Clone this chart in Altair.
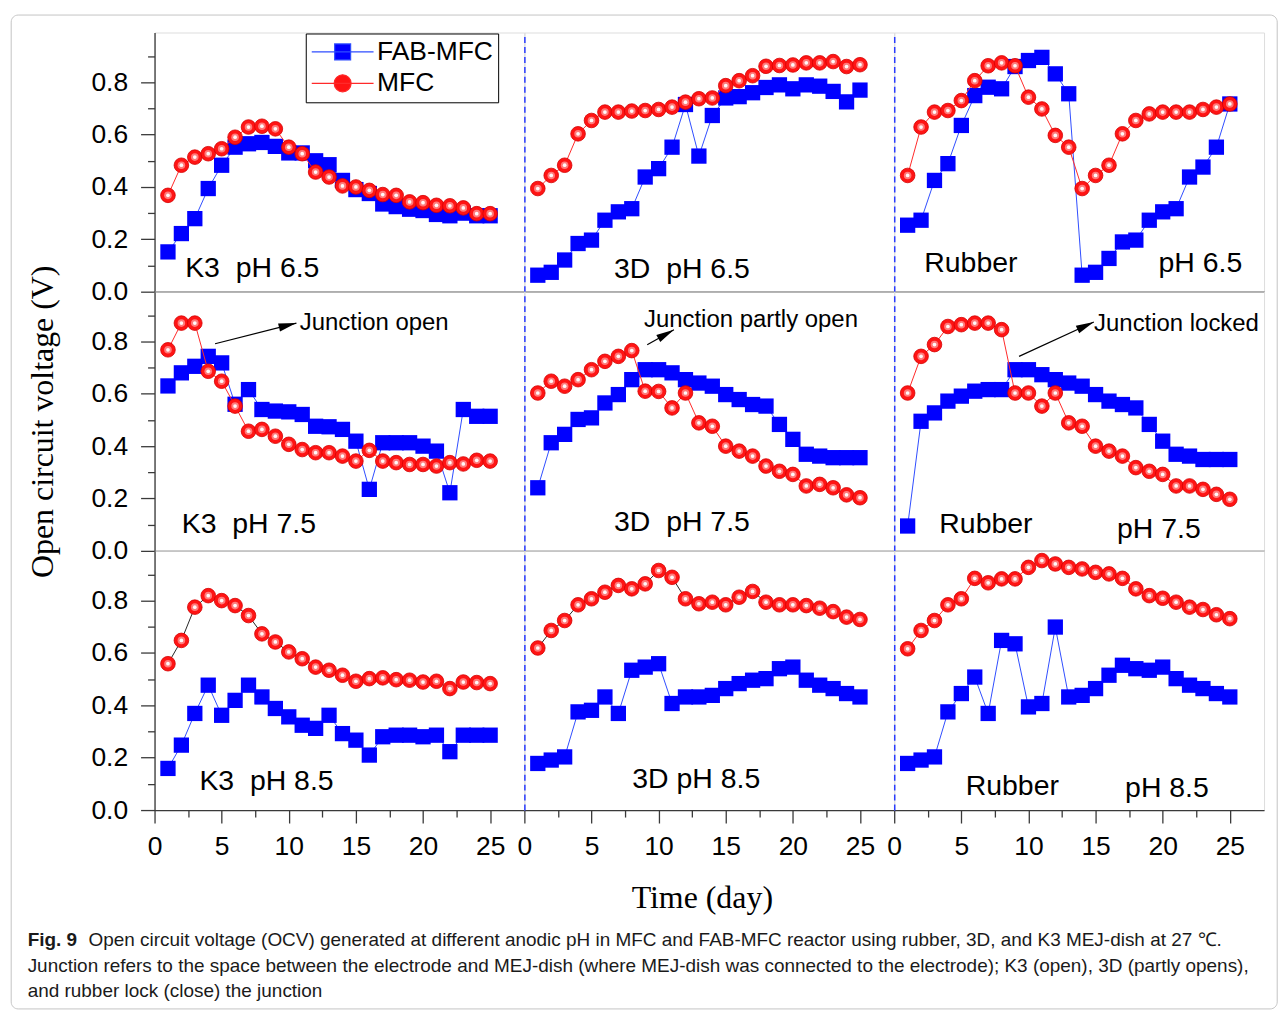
import altair as alt
import pandas as pd

DAYS = list(range(1, 26))

# ---- pH 6.5 ----
K3_65_FAB = [0.152, 0.222, 0.279, 0.394, 0.483, 0.552, 0.565, 0.570, 0.555, 0.530, 0.530, 0.500, 0.485,
             0.425, 0.390, 0.375, 0.335, 0.325, 0.315, 0.310, 0.295, 0.290, 0.300, 0.290, 0.290]
K3_65_MFC = [0.368, 0.483, 0.514, 0.527, 0.546, 0.590, 0.629, 0.632, 0.622, 0.552, 0.527, 0.457, 0.438,
             0.404, 0.400, 0.387, 0.371, 0.368, 0.343, 0.340, 0.330, 0.328, 0.320, 0.298, 0.298]
D3_65_FAB = [0.063, 0.074, 0.121, 0.184, 0.197, 0.273, 0.305, 0.317, 0.438, 0.470, 0.552, 0.715, 0.518,
             0.673, 0.740, 0.745, 0.760, 0.780, 0.790, 0.775, 0.790, 0.785, 0.765, 0.725, 0.770]
D3_65_MFC = [0.394, 0.444, 0.483, 0.603, 0.654, 0.686, 0.686, 0.690, 0.692, 0.696, 0.705, 0.724, 0.737,
             0.740, 0.787, 0.806, 0.825, 0.861, 0.864, 0.866, 0.874, 0.874, 0.879, 0.860, 0.867]
RB_65_FAB = [0.254, 0.273, 0.425, 0.489, 0.635, 0.749, 0.781, 0.775, 0.860, 0.883, 0.895, 0.832, 0.756,
             0.063, 0.074, 0.127, 0.190, 0.197, 0.273, 0.305, 0.317, 0.438, 0.476, 0.552, 0.717]
RB_65_MFC = [0.444, 0.629, 0.686, 0.692, 0.730, 0.806, 0.863, 0.874, 0.863, 0.743, 0.698, 0.597, 0.552,
             0.394, 0.444, 0.483, 0.603, 0.654, 0.679, 0.686, 0.686, 0.686, 0.696, 0.705, 0.717]

# ---- pH 7.5 ----
K3_75_FAB = [0.630, 0.680, 0.705, 0.743, 0.718, 0.560, 0.616, 0.540, 0.534, 0.531, 0.521, 0.476, 0.474,
             0.464, 0.419, 0.235, 0.413, 0.413, 0.413, 0.400, 0.381, 0.222, 0.540, 0.514, 0.514]
K3_75_MFC = [0.768, 0.870, 0.870, 0.686, 0.648, 0.553, 0.457, 0.464, 0.438, 0.407, 0.387, 0.375, 0.375,
             0.362, 0.343, 0.384, 0.343, 0.337, 0.330, 0.330, 0.324, 0.337, 0.332, 0.346, 0.343]
D3_75_FAB = [0.241, 0.413, 0.445, 0.502, 0.508, 0.565, 0.597, 0.654, 0.692, 0.692, 0.680, 0.654, 0.641,
             0.629, 0.597, 0.578, 0.559, 0.553, 0.483, 0.426, 0.369, 0.362, 0.356, 0.356, 0.356]
D3_75_MFC = [0.603, 0.648, 0.629, 0.654, 0.692, 0.724, 0.743, 0.765, 0.610, 0.609, 0.546, 0.603, 0.489,
             0.476, 0.400, 0.381, 0.362, 0.324, 0.304, 0.292, 0.248, 0.254, 0.241, 0.214, 0.203]
RB_75_FAB = [0.095, 0.495, 0.527, 0.572, 0.591, 0.610, 0.616, 0.616, 0.692, 0.692, 0.673, 0.654, 0.641,
             0.629, 0.597, 0.572, 0.559, 0.546, 0.483, 0.419, 0.369, 0.362, 0.349, 0.349, 0.349]
RB_75_MFC = [0.603, 0.743, 0.788, 0.857, 0.864, 0.870, 0.870, 0.845, 0.603, 0.603, 0.553, 0.603, 0.489,
             0.476, 0.400, 0.381, 0.362, 0.318, 0.304, 0.292, 0.248, 0.248, 0.235, 0.216, 0.197]

# ---- pH 8.5 ----
K3_85_FAB = [0.159, 0.248, 0.369, 0.477, 0.362, 0.419, 0.477, 0.432, 0.388, 0.356, 0.324, 0.312, 0.362,
             0.292, 0.267, 0.210, 0.280, 0.286, 0.286, 0.280, 0.286, 0.223, 0.286, 0.286, 0.286]
K3_85_MFC = [0.559, 0.648, 0.775, 0.819, 0.800, 0.781, 0.743, 0.673, 0.642, 0.604, 0.578, 0.546, 0.534,
             0.515, 0.492, 0.502, 0.505, 0.498, 0.496, 0.489, 0.492, 0.464, 0.489, 0.487, 0.483]
D3_85_FAB = [0.178, 0.191, 0.203, 0.375, 0.381, 0.432, 0.369, 0.534, 0.546, 0.559, 0.407, 0.432, 0.432,
             0.438, 0.464, 0.483, 0.496, 0.502, 0.540, 0.546, 0.496, 0.477, 0.464, 0.445, 0.432]
D3_85_MFC = [0.619, 0.686, 0.724, 0.784, 0.807, 0.832, 0.858, 0.845, 0.864, 0.915, 0.889, 0.807, 0.788,
             0.794, 0.784, 0.813, 0.835, 0.794, 0.784, 0.784, 0.781, 0.771, 0.758, 0.737, 0.728]
RB_85_FAB = [0.178, 0.191, 0.203, 0.375, 0.445, 0.508, 0.369, 0.648, 0.635, 0.394, 0.407, 0.699, 0.432,
             0.438, 0.464, 0.515, 0.553, 0.540, 0.534, 0.546, 0.502, 0.477, 0.464, 0.445, 0.432]
RB_85_MFC = [0.616, 0.686, 0.724, 0.784, 0.807, 0.885, 0.868, 0.883, 0.883, 0.927, 0.953, 0.940, 0.927,
             0.921, 0.908, 0.902, 0.885, 0.845, 0.819, 0.809, 0.794, 0.775, 0.766, 0.746, 0.731]

SERIES = ["FAB-MFC", "MFC"]
DISHES = ["K3", "3D", "Rubber"]
PHS = ["6.5", "7.5", "8.5"]

PANEL_DATA = {
    ("6.5", "K3"): (K3_65_FAB, K3_65_MFC), ("6.5", "3D"): (D3_65_FAB, D3_65_MFC), ("6.5", "Rubber"): (RB_65_FAB, RB_65_MFC),
    ("7.5", "K3"): (K3_75_FAB, K3_75_MFC), ("7.5", "3D"): (D3_75_FAB, D3_75_MFC), ("7.5", "Rubber"): (RB_75_FAB, RB_75_MFC),
    ("8.5", "K3"): (K3_85_FAB, K3_85_MFC), ("8.5", "3D"): (D3_85_FAB, D3_85_MFC), ("8.5", "Rubber"): (RB_85_FAB, RB_85_MFC),
}

NB = "\u00a0"
# panel labels (text, ph, dish, day of left edge, baseline voltage)
LABEL_TEXT = ["K3" + NB + NB + "pH 6.5", "3D" + NB + NB + "pH 6.5", "Rubber", "pH 6.5",
              "K3" + NB + NB + "pH 7.5", "3D" + NB + NB + "pH 7.5", "Rubber", "pH 7.5",
              "K3" + NB + NB + "pH 8.5", "3D pH 8.5", "Rubber", "pH 8.5"]
LABEL_PH = ["6.5"] * 4 + ["7.5"] * 4 + ["8.5"] * 4
LABEL_DISH = ["K3", "3D", "Rubber", "Rubber"] * 3
LABEL_DAY = [2.28, 6.68, 2.24, 19.69, 2.03, 6.68, 3.36, 16.6, 3.34, 8.04, 5.33, 17.2]
LABEL_V = [0.057, 0.051, 0.076, 0.076, 0.070, 0.076, 0.070, 0.051, 0.076, 0.083, 0.057, 0.051]

# junction annotations (pH 7.5 row)
NOTE_TEXT = ["Junction open", "Junction partly open", "Junction locked"]
NOTE_DISH = ["K3", "3D", "Rubber"]
NOTE_DAY = [10.82, 8.91, 14.89]
NOTE_V = [0.845, 0.857, 0.838]
ARROW_DAY = [4.51, 9.15, 9.30]
ARROW_V = [0.791, 0.787, 0.743]
ARROW_DAY2 = [10.57, 11.14, 14.87]
ARROW_V2 = [0.870, 0.845, 0.874]
ARROW_ANGLE = [75.8, 60.7, 65.4]

CAPTION_BOLD = "Fig. 9"
CAPTION_1 = ("Open circuit voltage (OCV) generated at different anodic pH in MFC and FAB-MFC reactor "
             "using rubber, 3D, and K3 MEJ-dish at 27 \u2103.")
CAPTION_2 = ("Junction refers to the space between the electrode and MEJ-dish (where MEJ-dish was connected "
             "to the electrode); K3 (open), 3D (partly opens),")
CAPTION_3 = "and rubber lock (close) the junction"

# ---------------- tables ----------------
recs = []
for (ph, dish), (fab, mfc) in PANEL_DATA.items():
    for d, a, b in zip(DAYS, fab, mfc):
        recs.append(dict(ph=ph, dish=dish, series="FAB-MFC", day=d, v=a))
        recs.append(dict(ph=ph, dish=dish, series="MFC", day=d, v=b))
df = pd.DataFrame(recs)

labels_df = pd.DataFrame(dict(text=LABEL_TEXT, ph=LABEL_PH, dish=LABEL_DISH, day=LABEL_DAY, v=LABEL_V))
notes_df = pd.DataFrame(dict(text=NOTE_TEXT, dish=NOTE_DISH, day=NOTE_DAY, v=NOTE_V))
arrows_df = pd.DataFrame(dict(dish=NOTE_DISH, day=ARROW_DAY, v=ARROW_V, day2=ARROW_DAY2, v2=ARROW_V2))
heads_df = pd.DataFrame(dict(dish=NOTE_DISH, day=ARROW_DAY2, v=ARROW_V2, ang=ARROW_ANGLE))
cap_df = pd.DataFrame(dict(text=[CAPTION_BOLD, CAPTION_1, CAPTION_2, CAPTION_3]))
frame_df = pd.DataFrame(dict(frame=["figure"]))

SANS = "Liberation Sans"
SERIF = "Liberation Serif"
AXIS_GRAY = "#3a3a3a"
CAP_COLOR = "#1a1a1a"

XS = alt.Scale(domain=[0, 27.55], nice=False, zero=False)
YS = alt.Scale(domain=[0, 0.99], nice=False, zero=False)

HEAD_PATH = "M0,0L0.45,2L-0.45,2Z"
# legend symbols: line through marker (size 625 -> unit = 12.5 px)
SQ_PATH = "M-2.48,0H2.48M-0.64,-0.64H0.64V0.64H-0.64Z"
CI_PATH = "M-2.48,0H2.48M-0.68,0A0.68,0.68,0,1,1,0.68,0A0.68,0.68,0,1,1,-0.68,0Z"

PW, PH_ = 371, 260


def x_axis(bottom, title=None):
    if bottom:
        kw = dict(
            values=[i * 2.5 for i in range(11)],
            tickSize={"condition": {"test": "datum.value % 5 == 0", "value": 13}, "value": 7},
            labelExpr="datum.value % 5 == 0 ? format(datum.value, 'd') : ''",
            labelFont=SANS, labelFontSize=26.5, labelColor="black", labelPadding=11,
            labelFlush=False, labelOverlap=False,
            tickColor=AXIS_GRAY, tickWidth=1.3, domainColor=AXIS_GRAY, domainWidth=1.3,
            grid=False,
        )
        if title:
            kw.update(title=title, titleFont=SERIF, titleFontSize=32, titleFontWeight="normal",
                      titleColor="black", titlePadding=22, titleX=178)
        else:
            kw.update(title=None)
        return alt.Axis(**kw)
    return alt.Axis(title=None, ticks=False, labels=False, grid=False,
                    domainColor=AXIS_GRAY, domainWidth=1.3)


def y_axis(first, title=None):
    if first:
        kw = dict(
            values=[round(i * 0.1, 1) for i in range(10)],
            tickSize={"condition": {"test": "round(datum.value*10) % 2 == 0", "value": 14}, "value": 7},
            labelExpr="round(datum.value*10) % 2 == 0 ? format(datum.value, '.1f') : ''",
            labelFont=SANS, labelFontSize=26.5, labelColor="black", labelPadding=13,
            labelFlush=False, labelOverlap=False,
            tickColor=AXIS_GRAY, tickWidth=1.3, domainColor=AXIS_GRAY, domainWidth=1.3,
            grid=False,
        )
        if title:
            kw.update(title=title, titleFont=SERIF, titleFontSize=32, titleFontWeight="normal",
                      titleColor="black", titlePadding=32, titleLimit=800)
        else:
            kw.update(title=None)
        return alt.Axis(**kw)
    return alt.Axis(title=None, ticks=False, labels=False, grid=False,
                    domainColor="#2a3cff", domainWidth=1.5, domainDash=[6, 4])


def make_panel(ri, ci):
    ph, dish = PHS[ri], DISHES[ci]
    sub = df[(df.ph == ph) & (df.dish == dish)]
    X = alt.X("day:Q", scale=XS,
              axis=x_axis(ri == 2, "Time (day)" if (ri == 2 and ci == 1) else None))
    Y = alt.Y("v:Q", scale=YS,
              axis=y_axis(ci == 0, "Open circuit voltage (V)" if (ri == 1 and ci == 0) else None))
    base = alt.Chart(sub).encode(x=X, y=Y)
    fab = base.transform_filter(alt.datum.series == "FAB-MFC")
    mfc = base.transform_filter(alt.datum.series == "MFC")
    red_line = "#262626" if (ri == 2 and ci < 2) else "#ff2a2a"
    layers = []
    if ri == 0 and ci == 0:
        # light rounded frame around the whole figure (decoration)
        layers.append(alt.Chart(frame_df).mark_rect(
            fillOpacity=0, stroke="#c4c4c4", strokeWidth=1, cornerRadius=7
        ).encode(x=alt.value(-143.8), x2=alt.value(1126.2), y=alt.value(-17.5), y2=alt.value(979.5)))
    layers += [
        fab.mark_line(color="#2f4dff", strokeWidth=1),
        fab.mark_square(size=235, color="#0000ff", opacity=1),
        mfc.mark_line(color=red_line, strokeWidth=1),
        mfc.mark_circle(size=215, color="#ff1414", stroke="#d40000", strokeWidth=0.8, opacity=1),
        mfc.mark_circle(size=58, color="#ff9c9c", opacity=0.75),
        mfc.mark_circle(size=14, color="white", opacity=0.95),
    ]
    lab = labels_df[(labels_df.ph == ph) & (labels_df.dish == dish)]
    layers.append(
        alt.Chart(lab).mark_text(align="left", baseline="alphabetic", font=SANS, fontSize=28.5,
                                 color="black").encode(x=X, y=Y, text="text:N")
    )
    if ph == "7.5":
        nt = notes_df[notes_df.dish == dish]
        ar = arrows_df[arrows_df.dish == dish]
        hd = heads_df[heads_df.dish == dish]
        layers.append(alt.Chart(ar).mark_rule(color="black", strokeWidth=1.2).encode(
            x=X, y=Y, x2="day2:Q", y2="v2:Q"))
        layers.append(alt.Chart(hd).mark_point(shape=HEAD_PATH, filled=True, color="black",
                                               size=324, opacity=1).encode(
            x=X, y=Y, angle=alt.Angle("ang:Q", scale=None)))
        layers.append(alt.Chart(nt).mark_text(align="left", baseline="alphabetic", font=SANS,
                                              fontSize=24, color="black").encode(x=X, y=Y, text="text:N"))
    if ri == 0 and ci == 0:
        leg = alt.Legend(title=None, orient="none", legendX=151.7, legendY=1,
                         symbolSize=625, symbolOffset=18.5, symbolStrokeWidth=1.2, symbolOpacity=1,
                         labelFont=SANS, labelFontSize=26.5, labelColor="black", labelOffset=21,
                         rowPadding=4.5, padding=5, strokeColor="black", fillColor="white",
                         cornerRadius=0)
        layers.append(
            base.transform_filter("datum.day < 0").mark_point(filled=True).encode(
                color=alt.Color("series:N", scale=alt.Scale(domain=SERIES, range=["#0000ff", "#ff1414"]), legend=leg),
                stroke=alt.Stroke("series:N", scale=alt.Scale(domain=SERIES, range=["#2f4dff", "#ff2a2a"]), legend=leg),
                shape=alt.Shape("series:N", scale=alt.Scale(domain=SERIES, range=[SQ_PATH, CI_PATH]), legend=leg),
            )
        )
    if ri == 2 and ci == 0:
        # figure caption, written below the bottom-left panel
        cap = alt.Chart(cap_df)
        common = dict(align="left", baseline="middle", font=SANS, fontSize=19.0, color=CAP_COLOR)
        layers.append(cap.transform_filter(alt.datum.text == CAPTION_BOLD)
                      .mark_text(fontWeight="bold", **common)
                      .encode(text="text:N", x=alt.value(-127.3), y=alt.value(390)))
        layers.append(cap.transform_filter(alt.datum.text == CAPTION_1).mark_text(**common)
                      .encode(text="text:N", x=alt.value(-66.3), y=alt.value(390)))
        layers.append(cap.transform_filter(alt.datum.text == CAPTION_2).mark_text(**common)
                      .encode(text="text:N", x=alt.value(-127.3), y=alt.value(416)))
        layers.append(cap.transform_filter(alt.datum.text == CAPTION_3).mark_text(**common)
                      .encode(text="text:N", x=alt.value(-127.3), y=alt.value(442)))
    return alt.layer(*layers).properties(width=PW, height=PH_)


panels = [make_panel(ri, ci) for ri in range(3) for ci in range(3)]

chart = alt.concat(*panels, columns=3, spacing=0, bounds="flush").properties(
    padding={"left": 2, "top": 4, "right": 0, "bottom": 0}
).configure_view(stroke=None).configure(background="white")

chart.save("out.html", embed_options={"renderer": "svg", "actions": False})
